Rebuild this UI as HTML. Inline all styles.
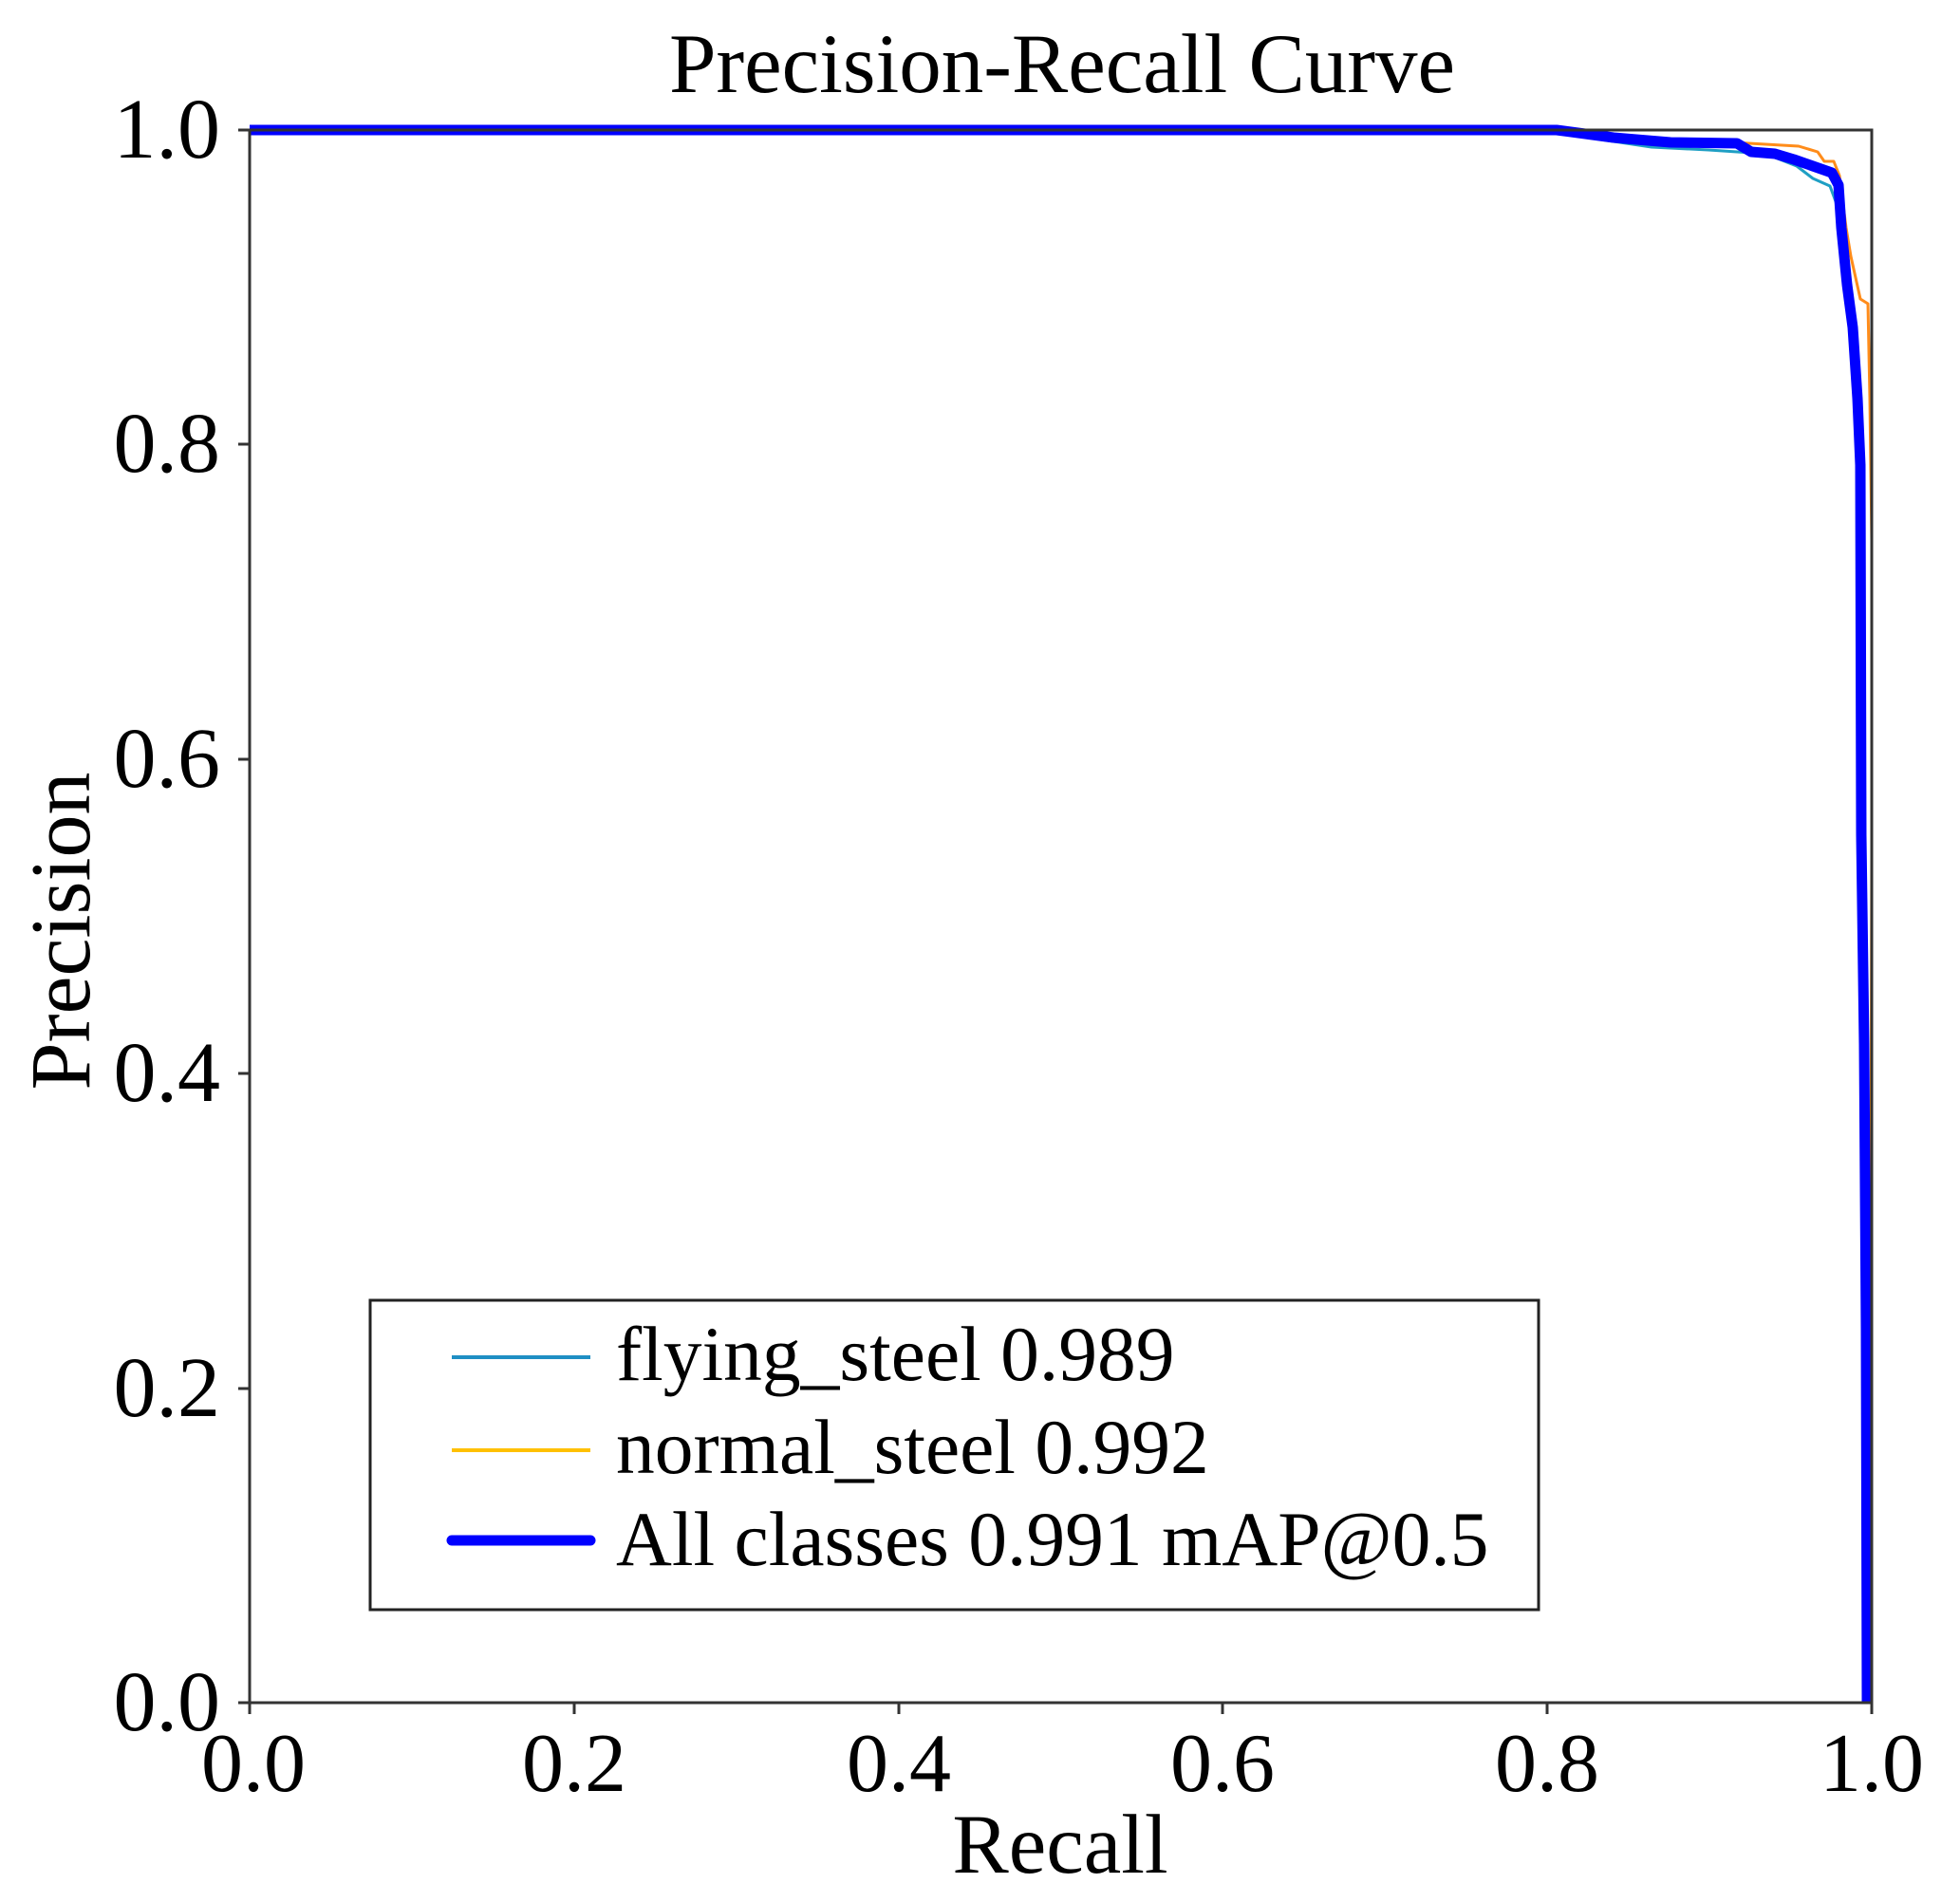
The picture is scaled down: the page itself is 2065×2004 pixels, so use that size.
<!DOCTYPE html>
<html><head><meta charset="utf-8"><style>
html,body{margin:0;padding:0;background:#fff;}
svg{display:block;}
text{font-family:"Liberation Serif",serif;fill:#000;}
</style></head><body>
<svg width="2065" height="2004" viewBox="0 0 2065 2004" xmlns="http://www.w3.org/2000/svg">
<rect width="2065" height="2004" fill="#fff"/>
<text x="1119" y="97" font-size="89" text-anchor="middle">Precision-Recall Curve</text>
<g fill="none" stroke-linejoin="round">
<polyline stroke="#ff8c1a" stroke-width="3" points="263,137 1630,137 1700,143 1790,148 1860,152 1895,154 1915,160 1922,170 1932,170 1938,185 1945,240 1950,270 1960,315 1968,320 1970,420 1972,570 1972,900 1970,1794"/>
<polyline stroke="#1f9fc4" stroke-width="3" points="263,137 1620,137 1680,146 1740,155 1800,158 1860,162 1893,175 1910,188 1928,196 1935,215 1942,260 1952,330 1958,440 1962,700 1964,1000 1965,1300 1966,1794"/>
<polyline stroke="#0000ff" stroke-width="11" points="263,137 1640,137 1700,145 1760,150 1830,151 1845,160 1870,162 1890,168 1910,175 1930,182 1937,195 1940,240 1946,300 1952,345 1957,420 1960,490 1961,880 1964,1100 1966,1400 1967,1794"/>
</g>
<rect x="263" y="137" width="1709" height="1657" fill="none" stroke="#333" stroke-width="3"/>
<g stroke="#333" stroke-width="3">
<line x1="251" y1="137" x2="263" y2="137"/><line x1="251" y1="468" x2="263" y2="468"/>
<line x1="251" y1="800" x2="263" y2="800"/><line x1="251" y1="1131" x2="263" y2="1131"/>
<line x1="251" y1="1463" x2="263" y2="1463"/><line x1="251" y1="1794" x2="263" y2="1794"/>
<line x1="263" y1="1794" x2="263" y2="1806"/><line x1="605" y1="1794" x2="605" y2="1806"/>
<line x1="947" y1="1794" x2="947" y2="1806"/><line x1="1288" y1="1794" x2="1288" y2="1806"/>
<line x1="1630" y1="1794" x2="1630" y2="1806"/><line x1="1972" y1="1794" x2="1972" y2="1806"/>
</g>
<g font-size="90" text-anchor="end">
<text x="232" y="166">1.0</text><text x="232" y="497">0.8</text>
<text x="232" y="829">0.6</text><text x="232" y="1160">0.4</text>
<text x="232" y="1492">0.2</text><text x="232" y="1823">0.0</text>
</g>
<g font-size="88" text-anchor="middle">
<text x="267" y="1887">0.0</text><text x="605" y="1887">0.2</text>
<text x="947" y="1887">0.4</text><text x="1288" y="1887">0.6</text>
<text x="1630" y="1887">0.8</text><text x="1972" y="1887">1.0</text>
</g>
<text x="1117" y="1973" font-size="89" text-anchor="middle">Recall</text>
<text transform="translate(94,981) rotate(-90)" font-size="90" text-anchor="middle">Precision</text>
<rect x="390" y="1370" width="1231" height="326" fill="#fff" stroke="#222" stroke-width="3"/>
<line x1="476" y1="1430" x2="622" y2="1430" stroke="#1f8fc4" stroke-width="4"/>
<line x1="476" y1="1528" x2="622" y2="1528" stroke="#ffc000" stroke-width="4"/>
<line x1="476" y1="1623" x2="622" y2="1623" stroke="#0000ff" stroke-width="11" stroke-linecap="round"/>
<g font-size="81.5">
<text x="649" y="1454">flying_steel 0.989</text>
<text x="649" y="1552">normal_steel 0.992</text>
<text x="649" y="1649">All classes 0.991 mAP@0.5</text>
</g>
</svg>
</body></html>
